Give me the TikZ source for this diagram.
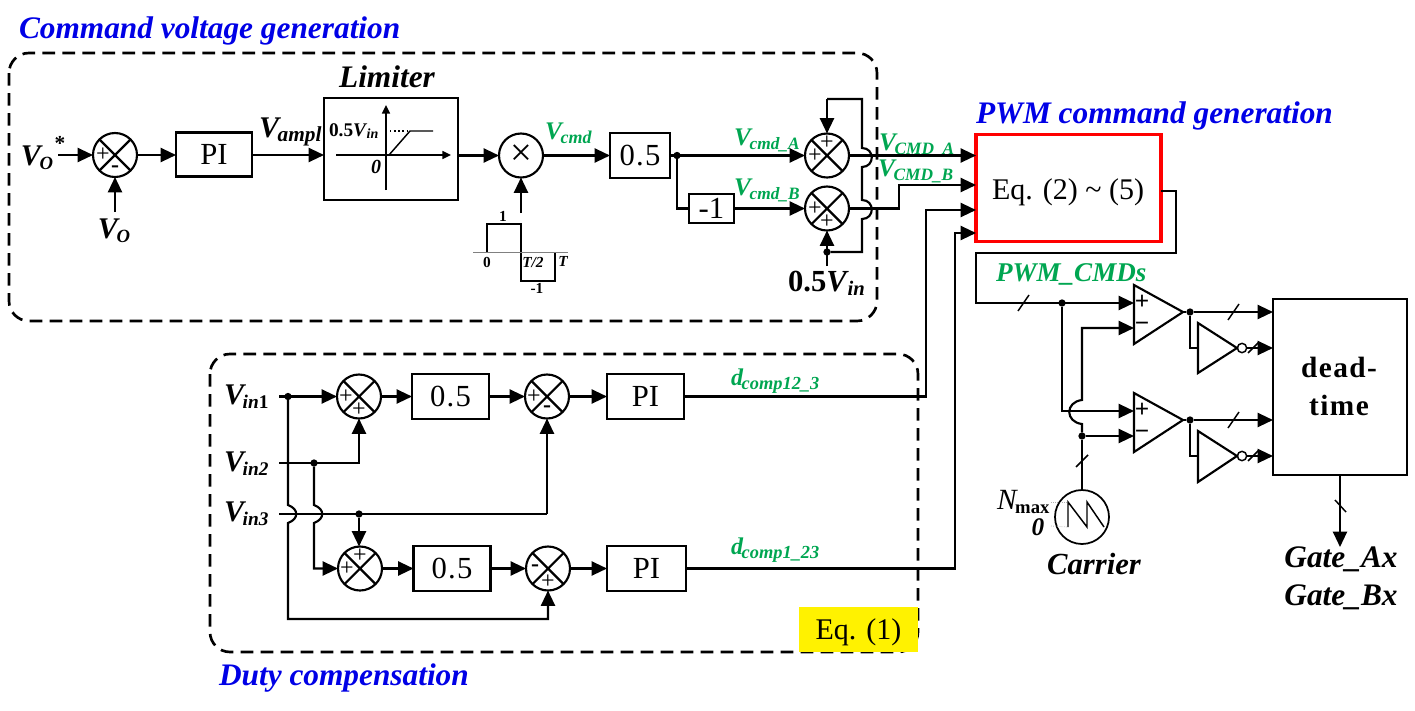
\documentclass[tikz,border=0pt]{standalone}
\usepackage{fontspec}
\setmainfont{Liberation Serif}
\usetikzlibrary{arrows.meta,calc}
\definecolor{grn}{HTML}{00A651}
\definecolor{blu}{HTML}{0000E6}
\newcommand{\fz}[1]{\fontsize{#1}{#1}\selectfont}
\newcommand{\lsb}[2]{\kern-1pt\raisebox{-3.5pt}{\fz{#1}#2}}
\newcommand{\sumdraw}[3]{\node[sumc] (#1) at (#2,#3) {};\draw[ln] (#1.45) -- (#1.225) (#1.135) -- (#1.-45);}
\newcommand{\pl}[3]{\node[plus] (#1p#2#3) at ($(#1)+(#2,#3)$) {+};}
\newcommand{\mi}[3]{\node[minus] (#1m#2#3) at ($(#1)+(#2,#3)$) {-};}
\tikzset{
 x=0.75pt,y=-0.75pt,
 ln/.style={line width=1.6pt,line cap=butt,line join=miter},
 arr/.style={ln,-{Triangle[length=11.5pt,width=10.5pt]}},
 sarr/.style={line width=1.1pt,-{Triangle[length=6.5pt,width=6pt]}},
 sumc/.style={circle,draw,line width=1.6pt,minimum size=33pt,inner sep=0pt,outer sep=0pt},
 bx/.style n args={2}{draw,line width=1.6pt,minimum width=#1*0.75pt,minimum height=#2*0.75pt,inner sep=0pt,outer sep=0pt,font=\fz{23}},
 dot/.style={circle,fill=black,minimum size=5.5pt,inner sep=0pt,outer sep=0pt},
 lab/.style={inner sep=0pt,outer sep=0pt,font=\bfseries\itshape},
 glab/.style={lab,text=grn},
 ttl/.style={lab,text=blu,font=\bfseries\itshape\fz{23.5}},
 plus/.style={inner sep=0pt,outer sep=0pt,font=\fz{18}},
 minus/.style={inner sep=0pt,outer sep=0pt,font=\bfseries\fz{18}},
 cplus/.style={inner sep=0pt,outer sep=0pt,font=\bfseries\fz{19}},
 dbox/.style={draw,line width=2pt,dash pattern=on 9.5pt off 5.5pt,rounded corners=15pt},
 sl/.style={line width=1.1pt},
}
\begin{document}
\begin{tikzpicture}
\useasboundingbox (0,0) rectangle (1415,711);
% dashed groups
\draw[dbox] (9,53) rectangle (877,321);
\draw[dbox] (210,354) rectangle (918,652);
\node[fill=yellow,minimum width=89pt,minimum height=33.75pt,inner sep=0pt] (eqone) at (858.5,629.5) {};
\node[inner sep=0pt,outer sep=0pt,font=\fz{22.5},anchor=base] (eqt) at (858.5,639) {Eq. (1)};
% titles
\node[ttl,anchor=base west] (t1) at (19,38) {Command voltage generation};
\node[ttl,anchor=base west] (t2) at (976,123) {PWM command generation};
\node[ttl,anchor=base west] (t3) at (219,685) {Duty compensation};
% top row
\node[lab,anchor=base west,font=\bfseries\itshape\fz{22.5}] (vostar) at (21,165) {V\lsb{14}{O}};
\node[lab,font=\bfseries\fz{16}] (star) at (60,143) {*};
\node[lab,anchor=base,font=\bfseries\itshape\fz{22.5}] (vo) at (114,238) {V\lsb{14}{O}};
\coordinate (voin) at (58,155);
\coordinate (vosrc) at (115,212);
\sumdraw{sa}{115}{155}
\pl{sa}{-12}{0}\mi{sa}{0}{14}
\node[bx={76}{44}] (pia) at (214,154.5) {PI};
\node[lab,anchor=base west,font=\bfseries\itshape\fz{22.5}] (vampl) at (259,137) {V\lsb{16}{ampl}};
\node[bx={134}{102}] (lim) at (391,149) {};
\node[lab,anchor=base,font=\bfseries\itshape\fz{23.5}] (limt) at (387,87) {Limiter};
\coordinate (ax1) at (386,190); \coordinate (ax2) at (386,105);
\coordinate (ay1) at (336,155); \coordinate (ay2) at (451,155);
\coordinate (k0) at (389,155); \coordinate (k1) at (410,131); \coordinate (k2) at (433,131); \coordinate (k3) at (390,131);
\draw[sarr] (ax1) -- (ax2);
\draw[sarr] (ay1) -- (ay2);
\draw[line width=1.1pt] (k0) -- (k1) -- (k2);
\draw[line width=1.1pt,dotted] (k3) -- (k1);
\node[lab,anchor=base west,font=\bfseries\fz{14.5}] (lv) at (329,136) {0.5\textit{V}\kern-0.5pt\raisebox{-2pt}{\fz{10.5}\textit{in}}};
\node[lab,anchor=base,font=\bfseries\itshape\fz{15}] (lz) at (376,173) {0};
\node[sumc] (mult) at (521,155.5) {};
\node[inner sep=0pt,font=\fz{29}] (multx) at (521,155) {×};
\node[glab,anchor=base west,font=\bfseries\itshape\fz{19}] (vcmd) at (545,139) {V\lsb{13.5}{cmd}};
\node[bx={60}{45},font=\fz{23}\addfontfeature{LetterSpace=4}] (ha) at (640,155.5) {0.5};
\node[dot] (da) at (677,155.5) {};
\node[bx={45}{29}] (neg) at (711.5,208.5) {-1};
\sumdraw{sb}{827}{155.5}
\pl{sb}{-12}{0}\pl{sb}{0}{-13}
\sumdraw{sc}{827}{208.5}
\pl{sc}{-12}{0}\pl{sc}{0}{13}
\node[glab,anchor=base west,font=\bfseries\itshape\fz{19}] (vca) at (734,145) {V\lsb{13}{cmd\_A}};
\node[glab,anchor=base west,font=\bfseries\itshape\fz{19}] (vcb) at (734,195) {V\lsb{13}{cmd\_B}};
\node[glab,anchor=base west,font=\bfseries\itshape\fz{19}] (vcma) at (879,150) {V\lsb{13}{CMD\_A}};
\node[glab,anchor=base west,font=\bfseries\itshape\fz{19}] (vcmb) at (878,176) {V\lsb{13}{CMD\_B}};
\node[dot] (dv) at (827,252) {};
\coordinate (vsrc) at (827,266);
\node[lab,anchor=base west,font=\bfseries\fz{23}] (vh) at (788,291) {0.5\textit{V}\lsb{15.5}{\textit{in}}};
\coordinate (f0) at (862,252); \coordinate (f1) at (862,219); \coordinate (f2) at (862,200);
\coordinate (f3) at (862,167); \coordinate (f4) at (862,148); \coordinate (f5) at (862,99); \coordinate (f6) at (827,99);
\coordinate (sq) at (521,213);
\coordinate (w0) at (487,252); \coordinate (w1) at (487,224); \coordinate (w2) at (521,224);
\coordinate (w3) at (521,281); \coordinate (w4) at (555,281); \coordinate (w5) at (555,252);
\coordinate (b0) at (473,252.5); \coordinate (b1) at (568,252.5);
\draw[line width=1.1pt] (w0) -- (w1) -- (w2) -- (w3) -- (w4) -- (w5);
\draw[line width=1.1pt,gray] (b0) -- (b1);
\node[lab,font=\bfseries\fz{11.5}] (w_a) at (503,216) {1};
\node[lab,font=\bfseries\fz{11.5}] (w_b) at (487,262) {0};
\node[lab,font=\bfseries\itshape\fz{11.5}] (w_c) at (533,262) {T/2};
\node[lab,font=\bfseries\itshape\fz{11.5}] (w_d) at (563,261) {T};
\node[lab,font=\bfseries\fz{11.5}] (w_e) at (537,288) {-1};
% top connectors
\draw[arr] (voin) -- (sa.west);
\draw[arr] (vosrc) -- (sa.south);
\draw[arr] (sa.east) -- (sa.east -| pia.west);
\draw[arr] (pia.east |- sa.east) -- (sa.east -| lim.west);
\draw[arr] (lim.east |- mult.west) -- (mult.west);
\draw[arr] (sq) -- (mult.south);
\draw[arr] (mult.east) -- (ha.west |- mult.east);
\draw[arr] (ha.east) -- (sb.west);
\draw[ln] (da) -- (da |- neg.west) -- (neg.west);
\draw[arr] (neg.east) -- (sc.west);
\draw[arr] (vsrc) -- (sc.south);
\draw[ln] (dv) -- (f0) -- (f1) .. controls +(13,0) and +(13,0) .. (f2) -- (f3) .. controls +(13,0) and +(13,0) .. (f4) -- (f5) -- (f6);
\draw[arr] (f6) -- (sb.north);
% PWM command
\node[bx={185}{107},draw=red,line width=2.8pt] (eqs) at (1068.5,188) {};
\node[inner sep=0pt,outer sep=0pt,font=\fz{22.5},anchor=base] (eqst) at (1068,199) {Eq. (2) \char`\~{} (5)};
\coordinate (c1) at (899,208.5); \coordinate (c2) at (899,185);
\draw[arr] (sb.east) -- (eqs.west |- sb.east);
\draw[arr] (sc.east) -- (c1) -- (c2) -- (eqs.west |- c2);
% lower block
\node[lab,anchor=base west,font=\bfseries\itshape\fz{22.5}] (vi1) at (224,404) {V\lsb{14.5}{in\upshape 1}};
\node[lab,anchor=base west,font=\bfseries\itshape\fz{22.5}] (vi2) at (224,471) {V\lsb{14.5}{in2}};
\node[lab,anchor=base west,font=\bfseries\itshape\fz{22.5}] (vi3) at (224,521) {V\lsb{14.5}{in3}};
\coordinate (i1) at (279,396.5); \coordinate (i2) at (279,463); \coordinate (i3) at (279,514);
\sumdraw{s1}{359}{396.5}\pl{s1}{-13}{0}\pl{s1}{0}{13}
\sumdraw{s2}{547}{396.5}\pl{s2}{-13}{0}\mi{s2}{0}{13}
\sumdraw{s3}{360}{568.5}\pl{s3}{-13}{0}\pl{s3}{0}{-13}
\sumdraw{s4}{548}{568.5}\mi{s4}{-13}{0}\pl{s4}{0}{13}
\node[bx={77}{45},font=\fz{23}\addfontfeature{LetterSpace=4}] (h1) at (450.5,396.5) {0.5};
\node[bx={77}{45},font=\fz{23}\addfontfeature{LetterSpace=4}] (h2) at (452,568.5) {0.5};
\node[bx={77}{45}] (p1) at (645.5,396.5) {PI};
\node[bx={79}{45}] (p2) at (646.5,568.5) {PI};
\node[dot] (di1) at (288,396.5) {};
\node[dot] (di2) at (314,463) {};
\node[dot] (di3) at (359,514) {};
\coordinate (j1a) at (288,505); \coordinate (j1b) at (288,523); \coordinate (j1c) at (288,619); \coordinate (j1d) at (548,619);
\coordinate (j2a) at (314,505); \coordinate (j2b) at (314,523); \coordinate (j2c) at (314,568.5);
\coordinate (j3) at (547,514);
\coordinate (j4) at (359,463);
\draw[arr] (i1) -- (s1.west);
\draw[arr] (s1.east) -- (h1.west);
\draw[arr] (h1.east) -- (s2.west);
\draw[arr] (s2.east) -- (p1.west);
\draw[arr] (i2) -- (j4) -- (s1.south);
\draw[ln] (i3) -- (j3);
\draw[arr] (j3) -- (s2.south);
\draw[arr] (di3) -- (di3 |- s3.north);
\draw[arr] (di1) -- (j1a) .. controls +(11,4) and +(11,-4) .. (j1b) -- (j1c) -- (j1d) -- (s4.south);
\draw[arr] (di2) -- (j2a) .. controls +(11,4) and +(11,-4) .. (j2b) -- (j2c) -- (s3.west);
\draw[arr] (s3.east) -- (h2.west);
\draw[arr] (h2.east) -- (s4.west);
\draw[arr] (s4.east) -- (p2.west);
\node[glab,anchor=base west,font=\bfseries\itshape\fz{18}] (dc1) at (731,385) {d\lsb{13.8}{comp12\_3}};
\node[glab,anchor=base west,font=\bfseries\itshape\fz{18}] (dc2) at (731,554) {d\lsb{13.8}{comp1\_23}};
\coordinate (e1) at (926,396.5); \coordinate (e2) at (926,210);
\coordinate (g1) at (955,568.5); \coordinate (g2) at (955,233);
\draw[arr] (p1.east) -- (e1) -- (e2) -- (eqs.west |- e2);
\draw[arr] (p2.east) -- (g1) -- (g2) -- (eqs.west |- g2);
% PWM output
\coordinate (o0) at (1161,191); \coordinate (o1) at (1176,191); \coordinate (o2) at (1176,253); \coordinate (o3) at (976,253); \coordinate (o4) at (976,303);
\node[dot] (dp) at (1062,303) {};
\node[glab,anchor=base west,font=\bfseries\itshape\fz{20.3}] (pwmc) at (996,281) {PWM\_CMDs};
% comparators
\coordinate (ca1) at (1134,285); \coordinate (ca2) at (1183,312); \coordinate (ca3) at (1134,344);
\coordinate (cb1) at (1134,393); \coordinate (cb2) at (1183,420); \coordinate (cb3) at (1134,452);
\draw[ln] (ca1) -- (ca2) -- (ca3) -- cycle;
\draw[ln] (cb1) -- (cb2) -- (cb3) -- cycle;
\node[cplus] (capl) at (1142,302) {+};
\node[cplus] (cami) at (1142,327) {−};
\node[cplus] (cbpl) at (1142,410) {+};
\node[cplus] (cbmi) at (1142,435) {−};
\coordinate (ia1) at (1134,303); \coordinate (ia2) at (1134,328);
\coordinate (ib1) at (1134,411); \coordinate (ib2) at (1134,436);
\coordinate (v1) at (1062,411);
\coordinate (u1) at (1082,328); \coordinate (u2) at (1082,400); \coordinate (u3) at (1082,424);
\node[dot] (du) at (1082,436) {};
\node[circle,draw,line width=1.3pt,minimum size=40.5pt,inner sep=0pt,outer sep=0pt] (car) at (1082,517) {};
\draw[arr] (o0) -- (o1) -- (o2) -- (o3) -- (o4) -- (ia1);
\draw[arr] (dp) -- (v1) -- (ib1);
\draw[ln] (car.north) -- (du);
\draw[arr] (du) -- (ib2);
\draw[arr] (du) -- (u3) .. controls +(-17,-2) and +(-17,2) .. (u2) -- (u1) -- (ia2);
\draw[sl] (1018,311) -- (1029,295);
\draw[sl] (1076,467) -- (1088,455);
% sawtooth
\coordinate (z0) at (1068,527); \coordinate (z1) at (1068,502); \coordinate (z2) at (1087,527); \coordinate (z3) at (1087,502); \coordinate (z4) at (1104,527);
\draw[line width=1.1pt] (z0) -- (z1) -- (z2) -- (z3) -- (z4);
\draw[line width=.6pt,gray!60,densely dotted] (1051,502) -- (z1);
\draw[line width=.6pt,gray!60,densely dotted] (1051,526) -- (z0);
\node[lab,anchor=base west,font=\itshape\fz{22}] (nm) at (997,509) {N\kern-1pt\raisebox{-3pt}{\bfseries\upshape\fz{14}max}};
\node[lab,anchor=base,font=\bfseries\itshape\fz{19}] (nz) at (1038,535) {0};
\node[lab,anchor=base,font=\bfseries\itshape\fz{23}] (carl) at (1094,574) {Carrier};
% inverters
\coordinate (na1) at (1198,323); \coordinate (na2) at (1237,348); \coordinate (na3) at (1198,373);
\coordinate (nb1) at (1198,431); \coordinate (nb2) at (1237,456); \coordinate (nb3) at (1198,482);
\draw[ln] (na1) -- (na2) -- (na3) -- cycle;
\draw[ln] (nb1) -- (nb2) -- (nb3) -- cycle;
\node[circle,draw,line width=1.1pt,minimum size=7pt,inner sep=0pt,outer sep=0pt] (ba) at (1242,348) {};
\node[circle,draw,line width=1.1pt,minimum size=7pt,inner sep=0pt,outer sep=0pt] (bb) at (1242,456) {};
\node[dot] (doa) at (1190,312) {};
\node[dot] (dob) at (1190,420) {};
\node[bx={134}{176}] (dt) at (1340,387) {};
\node[lab,font=\bfseries\fz{22},align=center] (dta) at (1339,367) {\addfontfeature{LetterSpace=5}dead-};
\node[lab,font=\bfseries\fz{22},align=center] (dtb) at (1339,405) {\addfontfeature{LetterSpace=5}time};
\draw[ln] (ca2) -- (doa);
\draw[ln] (cb2) -- (dob);
\draw[arr] (doa) -- (dt.west |- doa);
\draw[arr] (dob) -- (dt.west |- dob);
\draw[ln] (doa) -- (doa |- na2) -- (na1 |- na2);
\draw[ln] (dob) -- (dob |- nb2) -- (nb1 |- nb2);
\draw[arr] (ba.east) -- (dt.west |- ba.east);
\draw[arr] (bb.east) -- (dt.west |- bb.east);
\draw[sl] (1228,320) -- (1239,304);
\draw[sl] (1228,428) -- (1239,412);
\draw[sl] (1248,353) -- (1259,342);
\draw[sl] (1248,461) -- (1259,450);
\coordinate (gt) at (1340,547);
\draw[arr] (dt.south) -- (gt);
\draw[sl] (1335,500) -- (1346,512);
\node[lab,anchor=base,font=\bfseries\itshape\fz{23.5}] (ga) at (1341,567) {Gate\_Ax};
\node[lab,anchor=base,font=\bfseries\itshape\fz{23.5}] (gb) at (1341,605) {Gate\_Bx};
\end{tikzpicture}
\end{document}
